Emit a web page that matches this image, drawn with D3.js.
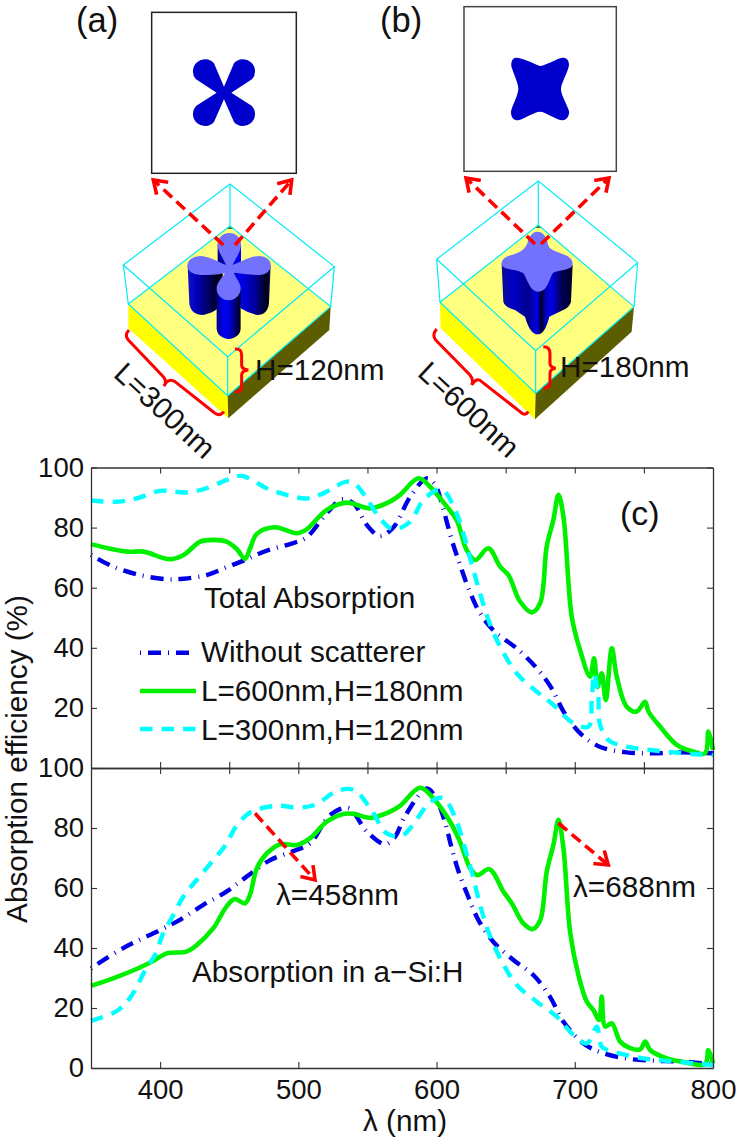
<!DOCTYPE html>
<html><head><meta charset="utf-8">
<script src="https://cdn.jsdelivr.net/npm/d3@7"></script>
<style>html,body{margin:0;padding:0;background:#fff}svg{display:block}text{font-family:"Liberation Sans",Arial,sans-serif;fill:#111}</style>
</head><body><svg id="c" width="743" height="1144"></svg>
<script>
// ---- data: [wavelength nm, efficiency %]
const totalBlue=[[350,70.9],[366,67],[385.5,64.2],[404.8,62.8],[417,63],[433.7,64.2],[448,66.8],[461.4,69.2],[477,72.3],[496,74.8],[506,76.8],[520.6,84.8],[531.4,89.4],[540,88],[549.5,80.9],[559,77.2],[568.7,80],[581,90.3],[593,96.4],[599,94.2],[605,85.9],[611,75.9],[617,67.6],[624,58.7],[631.5,51.5],[642,45.4],[658,39.8],[672.5,33.2],[683.3,26.5],[692,18.7],[704,11.5],[718,7.1],[737.6,5.2],[757,4.9],[778.6,5.2],[800,4.9]];
const totalGreen=[[350,74.5],[375.8,72],[388,72],[407,69.5],[417,70.9],[429,75.3],[438.5,75.9],[448,75.3],[455.6,72.8],[461.4,69.6],[465,73],[470,77.9],[483,80.1],[498.8,78.1],[506,79.4],[520.6,85.9],[535,88.3],[552,86.4],[566,88.6],[573.6,90.9],[586.9,96.4],[595.3,93.6],[607.4,87],[614.6,82.5],[621.8,72.5],[627.9,69.2],[637.5,73.1],[646,67],[652,64.2],[660.4,55.4],[668.9,51.8],[674.9,54.8],[679.7,73.7],[684.5,82.5],[688.2,90.9],[691.8,83.6],[697.8,50.4],[703.8,39.3],[711,30.4],[714,36.5],[716.4,27],[719.5,31.5],[722.4,22.6],[726.8,39.8],[730.4,30.4],[737.6,20.4],[744.8,18.8],[750.9,22],[753.3,18.8],[761.7,13.8],[773.8,7.7],[785.9,5.4],[794.3,4.9],[796.7,12.1],[800,6]];
const totalCyan=[[350,89],[368.6,88.6],[383,89.7],[400,92.2],[419,91.7],[433.7,93.1],[448,95.8],[459,97.2],[477,93.1],[491.5,90.9],[506,89.7],[518,91.4],[535,95.3],[541,94.5],[549.5,89.7],[559,83.1],[568.7,79.4],[581,82],[590.5,89.2],[603.7,92.7],[613.4,85.9],[619.4,78.1],[624,70.3],[631.5,58.1],[637.5,49.3],[644.8,41.5],[658,31.5],[672.5,25.4],[684.5,21],[699,14.9],[710,13.8],[712.3,22.6],[714,31.5],[717,23.7],[718,14.9],[724.3,9.3],[737.6,7.1],[754.5,6],[773.8,5.1],[790.7,4.5],[800,4.3]];
const siBlue=[[350,33.2],[373,39.9],[400,46],[414,49.3],[431,54.3],[448,58.8],[462.6,63.8],[479.6,69.3],[496.4,72.3],[508.6,74.9],[523,84.3],[536.3,86.6],[549.5,78.8],[562.8,74.6],[570,77.1],[577,83.8],[593,93.2],[599,90.4],[606,82.1],[611,73.2],[616,65.4],[623,57],[630.3,49.3],[641,42.1],[655.6,36],[670,31],[682,23.8],[691.8,15.4],[706.3,8.2],[720.7,4.9],[740,3],[759.3,2.4],[778.6,2.1],[800,1.3]];
const siGreen=[[350,27.4],[366,29.9],[383,33],[394,35.4],[404.8,38.2],[419,38.8],[426.6,41],[438.5,46.6],[448,53.8],[454,56.3],[461.4,54.9],[465,57.7],[470,66.6],[477.4,71.6],[487,74.6],[499,74.3],[508.6,76.6],[520.6,82.1],[532.6,84.7],[540,84.7],[552,83.4],[566,85.4],[573.6,87.4],[588,93.4],[597.7,89.9],[609.8,82.1],[617,75.4],[624.3,66.6],[629.6,64.3],[638.2,66.3],[648.4,58.8],[654.4,54.9],[662.8,48.2],[669.6,46.3],[675,49.3],[679.7,65.4],[684.5,74.3],[688.2,82.7],[691.8,73.2],[696.6,45.4],[702.6,31],[708.7,22.1],[713.5,19.3],[717.6,16],[719.5,23.8],[722,13.8],[726.8,14.9],[732.8,8.8],[740,6.6],[747.3,6.2],[751,8.8],[754.5,6],[766.6,3.2],[781,1.8],[794.3,1.3],[796.7,6],[800,1.6]];
const siCyan=[[350,15.7],[368.6,19],[378,23.2],[390,33.2],[396.3,37.7],[402.3,44.9],[409.6,51],[416.8,57.1],[427,63],[437.3,68.6],[447.4,74.3],[455.4,80.8],[466,85.4],[484,87.4],[501,86.8],[513,87.9],[527.6,92.3],[540,92.7],[552,86.6],[564,78.2],[575,77.4],[584.5,82.1],[595.3,88.6],[605,89.9],[614.6,82.1],[620.6,73.2],[625.5,65.4],[631.5,54.3],[637.5,45.4],[646,36.6],[658,27.7],[672.5,22.1],[687,17.1],[699,11],[708.7,8.2],[716,13.8],[719.5,7.1],[728,5.4],[749.7,3.2],[769,2.3],[800,1]];
const xTicks=[400,500,600,700,800];
const xMinorTicks=[400,450,500,550,600,650,700,750];
const yTicksTop=[20,40,60,80,100];
const yTicksBottom=[0,20,40,60,80,100];
const legendNames=["Without scatterer","L=600nm,H=180nm","L=300nm,H=120nm"];

const svg=d3.select("#c");
const AX="#333";
const x=d3.scaleLinear().domain([350,800]).range([91,713]);
const yT=d3.scaleLinear().domain([0,100]).range([768,467.5]);
const yB=d3.scaleLinear().domain([0,100]).range([1068,768]);
const TF=27.5, LF=29.7;
const styles={
 blue:{stroke:"#0000e6","stroke-width":4.4,"stroke-dasharray":"1 7 13 7"},
 green:{stroke:"#00f000","stroke-width":4.6},
 cyan:{stroke:"#00ffff","stroke-width":4.4,"stroke-dasharray":"12.5 9"}
};
function st(sel,s){for(const k in s)sel.attr(k,s[k]);return sel.attr("fill","none");}

// ---- plots
function panel(yS,series,yTicks,botTicks,botLabels){
  const g=svg.append("g");
  const line=d3.line().x(d=>x(d[0])).y(d=>yS(d[1])).curve(d3.curveCatmullRom.alpha(0.5));
  series.forEach(([d,s])=>st(g.append("path").attr("d",line(d)),s));
  const ax=(gen,tx,ty)=>{const a=g.append("g").attr("transform",`translate(${tx},${ty})`).call(gen);
    a.select(".domain").attr("stroke",AX).attr("stroke-width",1.3);
    a.selectAll(".tick line").attr("stroke",AX).attr("stroke-width",1.1);
    a.selectAll("text").attr("font-size",TF).attr("font-family",'"Liberation Sans"').attr("fill","#111");return a;};
  ax(d3.axisLeft(yS).tickValues(yTicks).tickSizeInner(-6).tickSizeOuter(0).tickPadding(7).tickFormat(d3.format("d")),91,0);
  ax(d3.axisRight(yS).tickValues(yTicks).tickSizeInner(-6).tickSizeOuter(0).tickFormat(""),713,0);
  ax(d3.axisTop(x).tickValues(xMinorTicks).tickSizeInner(-6).tickSizeOuter(0).tickFormat(""),0,yS.range()[1]);
  const b=d3.axisBottom(x).tickValues(botTicks).tickSizeInner(-6).tickSizeOuter(0);
  if(botLabels) b.tickPadding(11).tickFormat(d3.format("d")); else b.tickFormat("");
  ax(b,0,yS.range()[0]);
}
panel(yT,[[totalBlue,styles.blue],[totalGreen,styles.green],[totalCyan,styles.cyan]],yTicksTop,xMinorTicks,false);
panel(yB,[[siBlue,styles.blue],[siGreen,styles.green],[siCyan,styles.cyan]],yTicksBottom,xTicks,true);

function txt(s,px,py,fs,opt={}){const t=svg.append("text").attr("x",px).attr("y",py).attr("font-size",fs).text(s);
  if(opt.anchor)t.attr("text-anchor",opt.anchor);
  if(opt.rot!==undefined)t.attr("transform",`rotate(${opt.rot} ${px} ${py})`);return t;}

// legend
[[652.7,styles.blue],[691,styles.green],[729,styles.cyan]].forEach(([yy,s])=>st(svg.append("line").attr("x1",140).attr("x2",196).attr("y1",yy).attr("y2",yy),s));
legendNames.forEach((n,i)=>txt(n,201,[661.5,700.5,740][i],LF));
txt("Total Absorption",204,608,LF);
txt("Absorption in a\u2212Si:H",192,982,LF);
txt("\u03bb=458nm",276,905,LF);
txt("\u03bb=688nm",573,897,LF);
txt("(c)",620,525,34);
txt("\u03bb (nm)",405,1130.5,LF,{anchor:"middle"});
txt("Absorption efficiency (%)",27,759,LF,{anchor:"middle",rot:-90});

// ---- red arrows
function arrow(x1,y1,x2,y2,len=15){
  const g=svg.append("g").attr("fill","none").attr("stroke","#ff0000").attr("stroke-width",3.6);
  g.append("line").attr("x1",x1).attr("y1",y1).attr("x2",x2).attr("y2",y2).attr("stroke-dasharray","11.5 6");
  const a=Math.atan2(y2-y1,x2-x1),s=0.6;
  const p=d3.path();p.moveTo(x2-len*Math.cos(a-s),y2-len*Math.sin(a-s));p.lineTo(x2,y2);p.lineTo(x2-len*Math.cos(a+s),y2-len*Math.sin(a+s));
  g.append("path").attr("d",p.toString());
}
const defs=svg.append("defs");
function grad(id,x1,x2,stops){const g=defs.append("linearGradient").attr("id",id).attr("gradientUnits","userSpaceOnUse").attr("x1",x1).attr("x2",x2).attr("y1",0).attr("y2",0);
  stops.forEach(([o,c])=>g.append("stop").attr("offset",o).attr("stop-color",c));}
grad("aL",53,145,[[0,"#1414c8"],[.25,"#0000c0"],[.65,"#00006a"],[1,"#000018"]]);
grad("aR",212,302,[[0,"#0000e8"],[.45,"#0000a0"],[.88,"#000010"],[1,"#10105a"]]);
grad("aF",140,212,[[0,"#000090"],[.3,"#0000f0"],[.5,"#0000e0"],[1,"#000018"]]);
grad("aB",143,213,[[0,"#000090"],[1,"#0000ff"]]);
grad("bB",35,248,[[0,"#0c0c90"],[.15,"#0000c8"],[.38,"#00008c"],[.5,"#0000ee"],[.56,"#000018"],[.62,"#0000c0"],[.7,"#0000e8"],[.85,"#000050"],[1,"#000028"]]);

function box(g,c){ // c: left, back, right, front of surface; tops; bottoms; all in crop coordinates
  g.append("polygon").attr("points",[c.L,c.F,c.Fb,c.Lb].join(" ")).attr("fill","#ffff00");
  g.append("polygon").attr("points",[c.F,c.R,c.Rb,c.Fb].join(" ")).attr("fill","#5c5c00");
  g.append("polygon").attr("points",[c.L,c.B,c.R,c.F].join(" ")).attr("fill","#ffff80");
  g.append("polygon").attr("points",[[c.B[0]-12,c.B[1]+9],c.B,[c.B[0]+12,c.B[1]+9]].join(" ")).attr("fill","#6a6a20");
}
function wires(g,c){
  const w=g.append("g").attr("fill","none").attr("stroke","#00ecf5").attr("stroke-width",3.6);
  w.append("polygon").attr("points",[c.tL,c.tB,c.tR,c.tF].join(" "));
  w.append("polygon").attr("points",[c.L,c.B,c.R,c.F].join(" "));
  [[c.tL,c.L],[c.tB,c.B],[c.tR,c.R],[c.tF,c.F]].forEach(([p,q])=>w.append("line").attr("x1",p[0]).attr("y1",p[1]).attr("x2",q[0]).attr("y2",q[1]));
}
const TOP="#7272ff";
// ---- diagram (a)
const a=svg.append("g").attr("transform","translate(60,0) scale(0.3333)");
a.append("rect").attr("x",275).attr("y",37).attr("width",434).attr("height",483).attr("fill","none").attr("stroke","#222").attr("stroke-width",4.5);
a.append("path").attr("fill","#0000cc").attr("d","M492,260 L462,190 A36,36 0 1 0 408,238 L470,278 L408,318 A36,36 0 1 0 462,366 L492,298 L522,366 A36,36 0 1 0 576,318 L514,278 L576,238 A36,36 0 1 0 522,190 Z");
const ca={L:[205,912],B:[510,678],R:[812,920],F:[503,1187],Lb:[205,985],Rb:[808,990],Fb:[505,1255],tL:[190,795],tB:[510,552],tR:[823,800],tF:[503,1070]};
box(a,ca);
const a3=a.append("g").attr("transform","translate(330,660)");
a3.append("path").attr("fill","url(#aB)").attr("d","M143,72 L143,140 L213,140 L213,72 Z");
a3.append("path").attr("fill","url(#aL)").attr("d","M53,135 L58,250 Q62,285 100,285 Q125,280 145,265 L160,150 Z");
a3.append("path").attr("fill","url(#aR)").attr("d","M302,135 L297,250 Q293,285 262,285 Q235,280 212,265 L190,150 Z");
a3.append("path").attr("fill","url(#aF)").attr("d","M140,205 L140,325 A36,32 0 0 0 212,325 L212,205 Z");
a3.append("path").attr("fill",TOP).attr("d","M168,135 C160,115 143,95 143,72 A35,33 0 0 1 213,72 C213,95 197,115 188,135 C215,125 240,108 270,108 A32,28 0 0 1 270,165 C240,165 215,160 190,158 C200,175 212,190 212,205 A36,36 0 0 1 140,205 C140,190 155,175 165,160 C140,165 115,165 90,165 A37,28 0 0 1 90,108 C115,108 145,125 168,135 Z");
wires(a,ca);
a.append("path").attr("fill","none").attr("stroke","#f00").attr("stroke-width",9).attr("d","M207,990 Q192,1005 205,1020 L310,1130 Q322,1145 312,1158 Q325,1132 345,1145 L465,1240 Q480,1250 492,1235");
a.append("path").attr("fill","none").attr("stroke","#f00").attr("stroke-width",9).attr("d","M525,1047 Q545,1045 545,1065 L545,1095 Q545,1108 565,1110 Q545,1112 545,1125 L545,1160 Q545,1178 525,1175");
// ---- diagram (b)
const b=svg.append("g").attr("transform","translate(370,0) scale(0.3333)");
b.append("rect").attr("x",282).attr("y",20).attr("width",457).attr("height",494).attr("fill","none").attr("stroke","#444").attr("stroke-width",4.5);
b.append("path").attr("fill","#0000cc").attr("d","M510,198 C490,190 455,172 437,173 C423,175 422,195 426,205 C432,225 445,250 445,267 C445,285 425,320 423,335 C423,352 430,361 445,361 C465,355 495,335 510,335 C525,335 560,360 578,361 C592,360 599,345 597,333 C592,315 573,285 573,267 C573,250 595,215 597,195 C597,180 590,173 578,173 C560,175 525,198 510,198 Z");
const cb={L:[210,907],B:[505,675],R:[792,920],F:[497,1180],Lb:[212,985],Rb:[785,995],Fb:[495,1258],tL:[200,778],tB:[505,543],tR:[803,788],tF:[497,1052]};
box(b,cb);
const b3=b.append("g").attr("transform","translate(360,660)");
b3.append("path").attr("fill","url(#bB)").attr("d","M35,130 L40,245 Q45,262 75,270 L105,290 Q120,343 143,343 Q165,343 178,290 L215,272 Q240,262 243,245 L248,135 Z");
b3.append("path").attr("fill",TOP).attr("d","M143,35 C160,35 172,55 173,70 C175,90 200,95 225,105 C245,113 250,125 247,137 C240,150 205,150 190,158 C178,170 175,215 145,215 C118,215 112,175 100,160 C85,148 45,150 37,137 C30,120 45,110 65,105 C85,100 105,90 112,70 C115,55 125,35 143,35 Z");
wires(b,cb);
b.append("path").attr("fill","none").attr("stroke","#f00").attr("stroke-width",9).attr("d","M200,987 Q185,1005 197,1020 L300,1125 Q312,1140 305,1155 Q320,1130 335,1145 L450,1235 Q465,1250 475,1235");
b.append("path").attr("fill","none").attr("stroke","#f00").attr("stroke-width",9).attr("d","M520,1040 Q540,1040 540,1060 L540,1090 Q540,1102 557,1105 Q540,1107 540,1120 L540,1150 Q540,1165 520,1165");
// arrows
arrow(223.3,245,153.3,180);arrow(235,245,291.7,180);
arrow(535,244,466,178);arrow(541,244,609,178);
arrow(255,813.3,315,880);arrow(558.3,823,608.3,865);
// labels of diagrams
txt("(a)",76,32,34.5);txt("(b)",380,32,34.5);
txt("H=120nm",255,380,LF);txt("H=180nm",560,376.5,LF);
txt("L=300nm",158,418,LF,{anchor:"middle",rot:42.7});
txt("L=600nm",462,417,LF,{anchor:"middle",rot:42.7});
</script></body></html>
